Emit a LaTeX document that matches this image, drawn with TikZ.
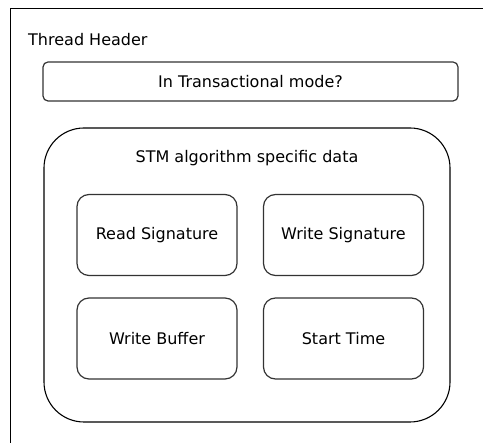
\documentclass[tikz,border=0pt]{standalone}
\usepackage{fontspec}
\setmainfont{DejaVu Sans}
\usetikzlibrary{positioning}
\definecolor{BoxLine}{RGB}{51, 51, 51}

\begin{document}
\begin{tikzpicture}[x=1pt, y=-1pt,
  fld/.style={draw=BoxLine, line width=1.2pt, rounded corners=12pt,
              minimum width=160pt, minimum height=81pt, font=\fontsize{16}{19}\selectfont},
  grp/.style={draw=black, line width=1.1pt, rounded corners=40pt,
              minimum width=406pt, minimum height=294pt},
  flag/.style={draw=BoxLine, line width=1.2pt, rounded corners=5pt,
               minimum width=415pt, minimum height=39pt, font=\fontsize{16}{19}\selectfont},
  lbl/.style={inner sep=0pt, font=\fontsize{16}{19}\selectfont}
]
  \useasboundingbox (0,0) rectangle (483,443);
  % thread header frame (runs off the page)
  \draw[line width=1pt] (10.5,443) -- (10.5,8.5) -- (483,8.5);
  \node[lbl, anchor=west] (hdr) at (28,40) {Thread Header};

  \node[flag] (mode) at (250.5,81.5) {In Transactional mode?};

  \node[grp] (stm) at (247,275) {};
  \node[lbl] (stmlbl) at (247,158) {STM algorithm specific data};

  \node[fld] (rsig) at (157,235)    {Read Signature};
  \node[fld] (wsig) at (343.5,235)  {Write Signature};
  \node[fld] (wbuf) at (157,338.5)  {Write Buffer};
  \node[fld] (stime) at (343.5,338.5) {Start Time};
\end{tikzpicture}
\end{document}
